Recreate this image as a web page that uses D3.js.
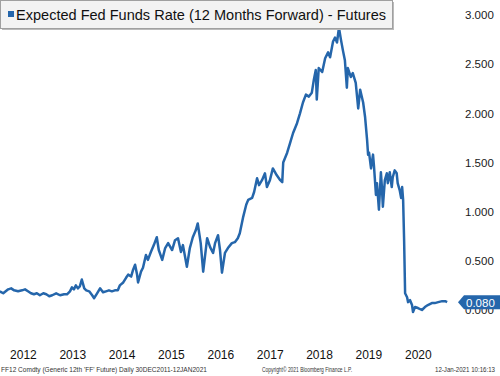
<!DOCTYPE html>
<html>
<head>
<meta charset="utf-8">
<script src="https://cdn.jsdelivr.net/npm/d3@7"></script>
<style>
  body { margin: 0; background: #fff; }
  svg { display: block; }
  text { font-family: "Liberation Sans", Arial, sans-serif; }
</style>
</head>
<body>
<div id="chart"></div>
<script>
// ===========Data (decimal year, rate)
var dates = [2012.03, 2012.10, 2012.20, 2012.26, 2012.32, 2012.40, 2012.48, 2012.54, 2012.60, 2012.66,
  2012.72, 2012.78, 2012.84, 2012.91, 2012.97, 2013.03, 2013.09, 2013.17, 2013.25, 2013.33,
  2013.39, 2013.45, 2013.49, 2013.53, 2013.57, 2013.61, 2013.65, 2013.69, 2013.74, 2013.78,
  2013.84, 2013.90, 2013.94, 2014.00, 2014.06, 2014.12, 2014.18, 2014.24, 2014.30, 2014.36,
  2014.42, 2014.46, 2014.53, 2014.59, 2014.63, 2014.69, 2014.73, 2014.77, 2014.81, 2014.83,
  2014.89, 2014.93, 2014.99, 2015.03, 2015.09, 2015.15, 2015.21, 2015.25, 2015.32, 2015.38,
  2015.44, 2015.52, 2015.58, 2015.64, 2015.70, 2015.74, 2015.82, 2015.88, 2015.94, 2016.00,
  2016.04, 2016.10, 2016.15, 2016.23, 2016.29, 2016.35, 2016.39, 2016.45, 2016.49, 2016.53,
  2016.59, 2016.65, 2016.73, 2016.79, 2016.85, 2016.89, 2016.96, 2017.02, 2017.06, 2017.14,
  2017.18, 2017.24, 2017.28, 2017.34, 2017.40, 2017.44, 2017.50, 2017.56, 2017.64, 2017.71,
  2017.75, 2017.77, 2017.85, 2017.91, 2017.97, 2018.05, 2018.11, 2018.17, 2018.23, 2018.29,
  2018.35, 2018.39, 2018.43, 2018.45, 2018.49, 2018.56, 2018.62, 2018.68, 2018.72, 2018.78,
  2018.82, 2018.86, 2018.90, 2018.94, 2018.98, 2019.02, 2019.06, 2019.08, 2019.14, 2019.18,
  2019.24, 2019.29, 2019.33, 2019.39, 2019.43, 2019.47, 2019.49, 2019.51, 2019.55, 2019.59,
  2019.61, 2019.65, 2019.67, 2019.71, 2019.75, 2019.77, 2019.79, 2019.83, 2019.87, 2019.89,
  2019.93, 2019.97, 2019.99, 2020.03, 2020.07, 2020.09, 2020.13, 2020.16, 2020.18, 2020.20,
  2020.22, 2020.24, 2020.28, 2020.30, 2020.34, 2020.38, 2020.40, 2020.44, 2020.50, 2020.58,
  2020.64, 2020.70, 2020.78, 2020.84, 2020.91, 2020.99, 2021.05, 2021.09];

var rates = [0.19, 0.17, 0.21, 0.22, 0.20, 0.19, 0.20, 0.21, 0.19, 0.17,
  0.16, 0.17, 0.15, 0.17, 0.16, 0.14, 0.15, 0.17, 0.15, 0.16,
  0.16, 0.19, 0.23, 0.21, 0.25, 0.22, 0.24, 0.31, 0.22, 0.20,
  0.19, 0.15, 0.12, 0.17, 0.22, 0.18, 0.19, 0.20, 0.19, 0.20,
  0.20, 0.25, 0.28, 0.33, 0.36, 0.34, 0.41, 0.46, 0.36, 0.28,
  0.39, 0.43, 0.56, 0.51, 0.59, 0.66, 0.74, 0.61, 0.51, 0.63,
  0.68, 0.61, 0.71, 0.73, 0.59, 0.66, 0.44, 0.63, 0.74, 0.81,
  0.88, 0.68, 0.39, 0.73, 0.64, 0.58, 0.68, 0.76, 0.61, 0.38,
  0.58, 0.63, 0.68, 0.69, 0.73, 0.78, 0.95, 1.07, 1.12, 1.14,
  1.20, 1.34, 1.27, 1.32, 1.39, 1.25, 1.32, 1.44, 1.37, 1.32,
  1.30, 1.50, 1.60, 1.70, 1.80, 1.90, 2.00, 2.11, 2.19, 2.17,
  2.21, 2.34, 2.44, 2.14, 2.46, 2.42, 2.56, 2.62, 2.57, 2.73,
  2.77, 2.72, 2.87, 2.75, 2.64, 2.54, 2.26, 2.46, 2.37, 2.41,
  2.31, 2.05, 2.24, 2.11, 1.96, 1.73, 1.58, 1.60, 1.44, 1.58,
  1.46, 1.17, 1.29, 1.02, 1.40, 1.25, 1.05, 1.32, 1.39, 1.29,
  1.40, 1.25, 1.35, 1.42, 1.39, 1.29, 1.22, 1.14, 1.25, 1.12,
  0.71, 0.17, 0.13, 0.08, 0.10, 0.05, -0.02, 0.03, 0.02, 0.00,
  0.03, 0.05, 0.07, 0.07, 0.08, 0.09, 0.09, 0.08];

var yTicks = [0, 0.5, 1, 1.5, 2, 2.5, 3];
var years = [2012, 2013, 2014, 2015, 2016, 2017, 2018, 2019, 2020];
var lastValue = 0.080;

var titleText = "Expected Fed Funds Rate (12 Months Forward) - Futures";
var footLeft = "FF12 Comdty (Generic 12th 'FF' Future)  Daily 30DEC2011-12JAN2021";
var footMid = "Copyright\u00a9 2021 Bloomberg Finance L.P.";
var footRight = "12-Jan-2021 10:16:13";

// ===========Set Height, Width
var svgWidth = 500;
var svgHeight = 376;
var lineColor = "#2566ab";

function decToDate(d) {
    var y = Math.floor(d);
    var start = Date.UTC(y, 0, 1), end = Date.UTC(y + 1, 0, 1);
    return new Date(start + (d - y) * (end - start));
}

var data = dates.map(function(d, i) {
    return { date: decToDate(d), value: rates[i] };
});

var svg = d3.select("#chart").append("svg")
    .attr("width", svgWidth)
    .attr("height", svgHeight);

// ===========Scales
var xScale = d3.scaleUtc()
    .domain([new Date(Date.UTC(2012, 0, 1)), new Date(Date.UTC(2021, 0, 1))])
    .range([-1.7, 442.7]);

var yScale = d3.scaleLinear()
    .domain([0, 3])
    .range([310, 15]);

// ===========Line
svg.append("clipPath").attr("id", "plotclip")
  .append("rect")
    .attr("x", 0).attr("y", 0)
    .attr("width", 455).attr("height", 340);

var line = d3.line()
    .x(d => xScale(d.date))
    .y(d => yScale(d.value));

svg.append("path")
    .datum(data)
    .attr("clip-path", "url(#plotclip)")
    .attr("fill", "none")
    .attr("stroke", lineColor)
    .attr("stroke-width", 2.5)
    .attr("stroke-linejoin", "round")
    .attr("d", line);

// ===========Right axis
var rightAxis = d3.axisRight(yScale)
    .tickValues(yTicks)
    .tickSize(0)
    .tickPadding(0)
    .tickFormat(d3.format(".3f"));

var yAxis = svg.append("g")
    .attr("transform", "translate(465,0)")
    .call(rightAxis);
yAxis.select(".domain").remove();
yAxis.selectAll("text")
    .attr("font-family", "Liberation Sans, Arial, sans-serif")
    .attr("font-size", "11.5px")
    .attr("fill", "#1a1a1a");

// ===========Last value flag
var fy = yScale(lastValue);
svg.append("path")
    .attr("d", `M458,${fy} L464,${fy - 7} L500,${fy - 7} L500,${fy + 7} L464,${fy + 7} Z`)
    .attr("fill", lineColor);
svg.append("text")
    .attr("x", 466)
    .attr("y", fy + 4.5)
    .attr("font-size", "11.5px")
    .attr("fill", "#fff")
    .text(d3.format(".3f")(lastValue));

// ===========Bottom axis (year labels centred in the year)
var bottomAxis = d3.axisBottom(xScale)
    .tickValues(years.map(y => new Date(Date.UTC(y, 6, 1))))
    .tickSize(0)
    .tickPadding(0)
    .tickFormat(d3.utcFormat("%Y"));

var xAxis = svg.append("g")
    .attr("transform", "translate(0,350)")
    .call(bottomAxis);
xAxis.select(".domain").remove();
xAxis.selectAll("text")
    .attr("font-family", "Liberation Sans, Arial, sans-serif")
    .attr("font-size", "12px")
    .attr("fill", "#111");

// ===========Title box
svg.append("rect")
    .attr("x", 2).attr("y", 2)
    .attr("width", 392).attr("height", 28)
    .attr("fill", "#bbb");
svg.append("rect")
    .attr("x", 0.5).attr("y", 0.5)
    .attr("width", 392).attr("height", 28)
    .attr("fill", "#f3f3f3")
    .attr("stroke", "#a0a0a0");
svg.append("rect")
    .attr("x", 8).attr("y", 11)
    .attr("width", 6).attr("height", 6)
    .attr("fill", lineColor);
svg.append("text")
    .attr("x", 16)
    .attr("y", 20)
    .attr("font-size", "14.5px")
    .attr("fill", "#111")
    .attr("textLength", 370)
    .attr("lengthAdjust", "spacingAndGlyphs")
    .text(titleText);

// ===========Footer
var foot = svg.append("g")
    .attr("font-size", "7px")
    .attr("fill", "#333");
foot.append("text").attr("x", 1).attr("y", 372)
    .attr("textLength", 206).attr("lengthAdjust", "spacingAndGlyphs")
    .text(footLeft);
foot.append("text").attr("x", 262).attr("y", 372)
    .attr("textLength", 90).attr("lengthAdjust", "spacingAndGlyphs")
    .text(footMid);
foot.append("text").attr("x", 435).attr("y", 372)
    .attr("textLength", 60).attr("lengthAdjust", "spacingAndGlyphs")
    .text(footRight);
</script>
</body>
</html>
